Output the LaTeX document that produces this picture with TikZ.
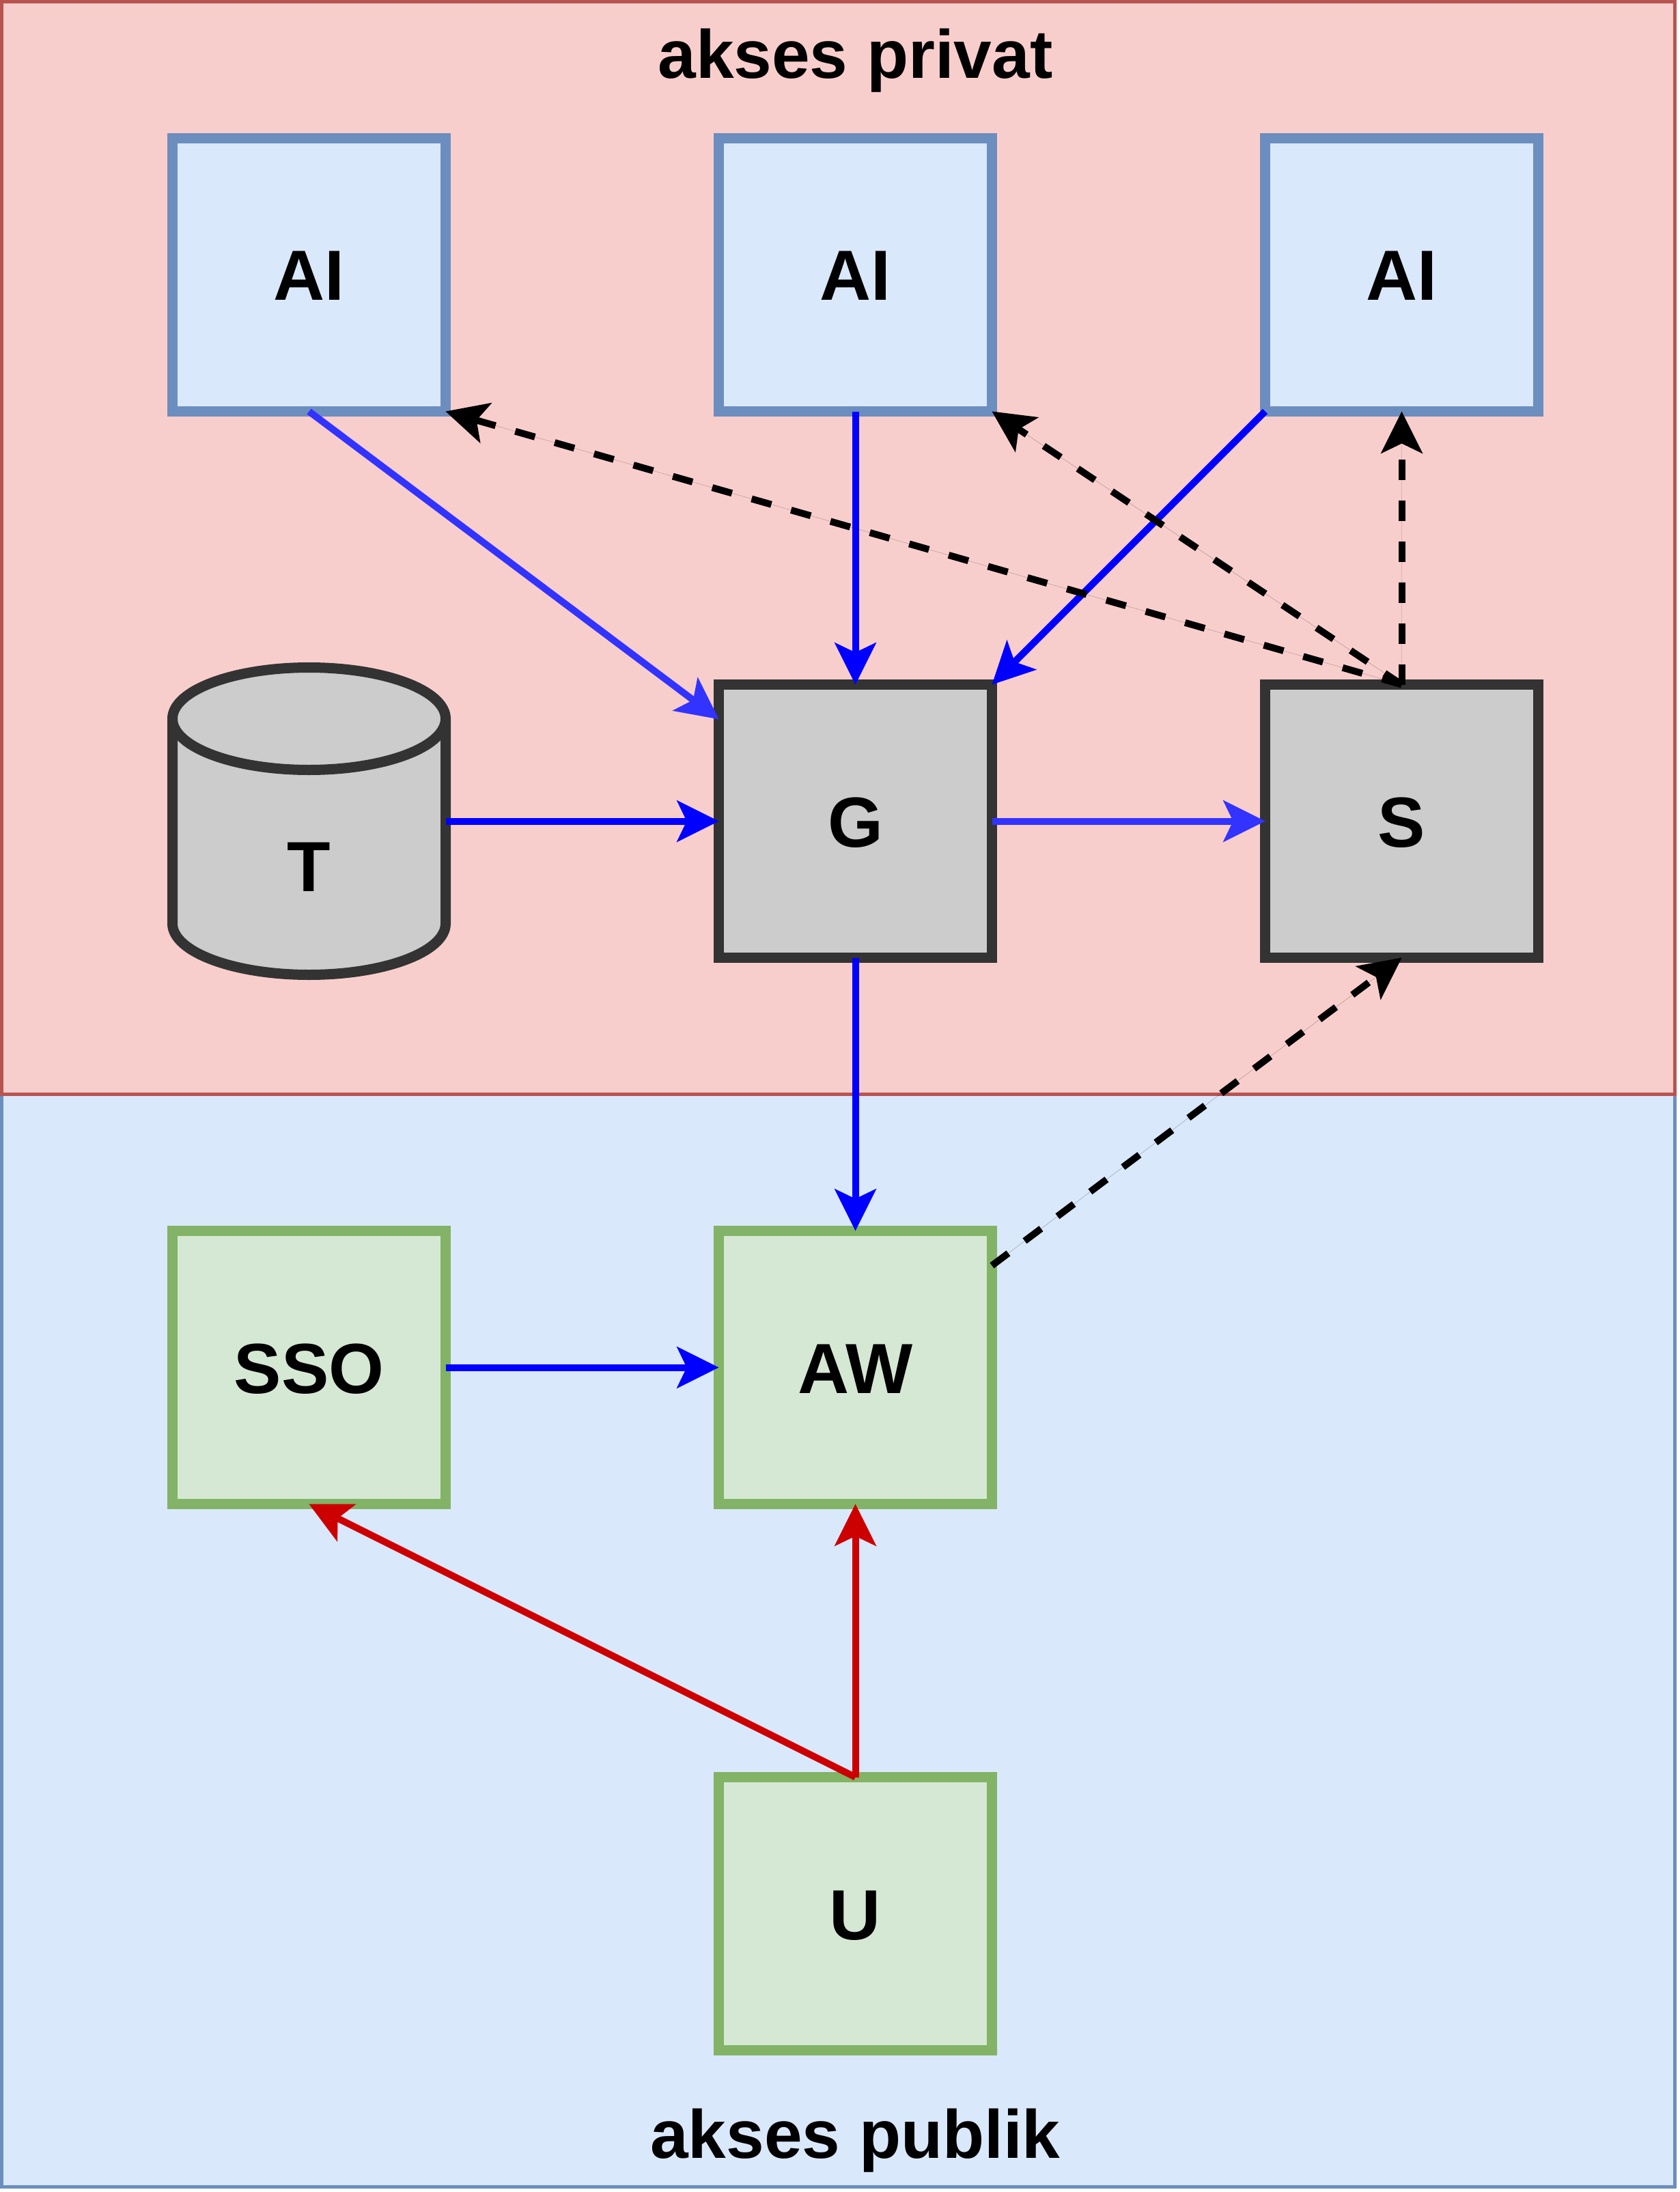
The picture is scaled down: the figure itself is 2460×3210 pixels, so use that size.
\documentclass[tikz,border=0pt]{standalone}
\usepackage{fontspec}
\setmainfont{Liberation Sans}
\usetikzlibrary{arrows.meta}
\definecolor{pinkfill}{HTML}{F8CECC}
\definecolor{pinkline}{HTML}{B85450}
\definecolor{bluefill}{HTML}{DAE8FC}
\definecolor{blueline}{HTML}{6C8EBF}
\definecolor{grayfill}{HTML}{CCCCCC}
\definecolor{grayline}{HTML}{333333}
\definecolor{greenfill}{HTML}{D5E8D4}
\definecolor{greenline}{HTML}{82B366}
\definecolor{edgeblue}{HTML}{0000FF}
\definecolor{edgelight}{HTML}{3333FF}
\definecolor{edgered}{HTML}{CC0000}
\newcommand\boxlabelfont{\fontsize{52pt}{62pt}\selectfont\bfseries}
\newcommand\areatitlefont{\fontsize{50pt}{60pt}\selectfont\bfseries}
\begin{document}
\begin{tikzpicture}[x=0.5pt,y=-0.5pt,
  area/.style={rectangle, minimum width=1225pt, minimum height=800pt, inner sep=0pt, outer sep=0pt, line width=2.5pt},
  areatitle/.style={inner sep=0pt, font=\areatitlefont, text=black, anchor=base},
  box/.style={rectangle, minimum width=200pt, minimum height=200pt, inner sep=0pt, outer sep=0pt, line width=7.5pt, text height=37.5pt, text depth=0pt, font=\boxlabelfont, text=black},
  aibox/.style={box, draw=blueline, fill=bluefill},
  graybox/.style={box, draw=grayline, fill=grayfill},
  greenbox/.style={box, draw=greenline, fill=greenfill},
  cylbody/.style={draw=grayline, fill=grayfill, line width=7.5pt},
  arrowend/.style={-{Stealth[length=31pt,width=31pt,inset=7.5pt,line width=0pt]}},
  conn/.style={line width=5pt, arrowend},
  bluelink/.style={conn, draw=edgeblue, fill=edgeblue},
  lightlink/.style={conn, draw=edgelight, fill=edgelight},
  redlink/.style={conn, draw=edgered, fill=edgered},
  dashlink/.style={conn, draw=black, fill=black, dash pattern=on 15pt off 15pt}
]
\fill[white] (0,0) rectangle (2460,3210);
\useasboundingbox (0,0) rectangle (2460,3210);

% areas
\node[area, draw=blueline, fill=bluefill] (pub) at (1227.5,2402.5) {};
\node[area, draw=pinkline, fill=pinkfill] (priv) at (1227.5,802.5) {};
\node[areatitle] (privtitle) at (1252.5,115) {akses privat};
\node[areatitle] (pubtitle) at (1252.5,3160) {akses publik};

% cylinder T
\node[minimum width=200pt, minimum height=225pt, inner sep=0pt, outer sep=0pt] (T) at (452.5,1202.5) {};
\filldraw[cylbody] (252.5,1052.5) -- (252.5,1352.5)
  arc[start angle=180,end angle=360,x radius=100pt,y radius=37.5pt]
  -- (652.5,1052.5)
  arc[start angle=0,end angle=180,x radius=100pt,y radius=37.5pt] -- cycle;
\draw[cylbody, fill=none] (252.5,1052.5) arc[start angle=180,end angle=360,x radius=100pt,y radius=37.5pt];
\node[box] (Tlabel) at (452.5,1267.5) {T};

% boxes
\node[aibox] (ai1) at (452.5,402.5) {AI};
\node[aibox] (ai2) at (1252.5,402.5) {AI};
\node[aibox] (ai3) at (2052.5,402.5) {AI};
\node[graybox] (g) at (1252.5,1202.5) {G};
\node[graybox] (s) at (2052.5,1202.5) {S};
\node[greenbox] (sso) at (452.5,2002.5) {SSO};
\node[greenbox] (aw) at (1252.5,2002.5) {AW};
\node[greenbox] (u) at (1252.5,2802.5) {U};

% connectors
\draw[lightlink] (ai1.south) -- (g);
\draw[bluelink] (ai2.south) -- (g.north);
\draw[bluelink] (ai3.south west) -- (g.north east);
\draw[bluelink] (T.east) -- (g.west);
\draw[lightlink] (g.east) -- (s.west);
\draw[bluelink] (g.south) -- (aw.north);
\draw[bluelink] (sso.east) -- (aw.west);
\draw[redlink] (u.north) -- (aw.south);
\draw[redlink] (u.north) -- (sso.south);
\draw[dashlink] (s.north) -- (ai1.south east);
\draw[dashlink] (s.north) -- (ai2.south east);
\draw[dashlink] (s.north) -- (ai3.south);
\draw[dashlink] (aw) -- (s.south);
\end{tikzpicture}
\end{document}
